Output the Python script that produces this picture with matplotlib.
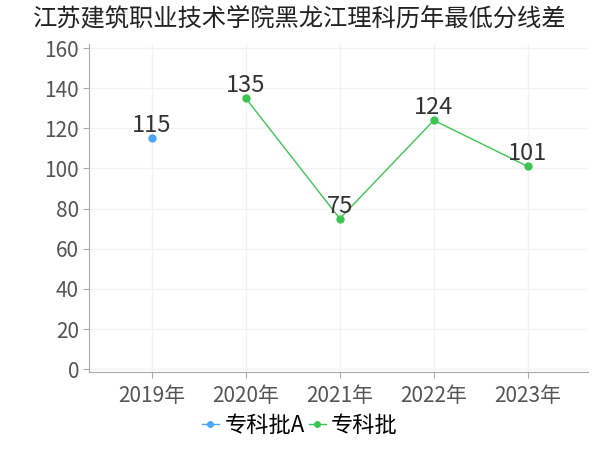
import matplotlib
matplotlib.use('Agg')
import matplotlib.pyplot as plt

plt.rcParams['font.family'] = ['Noto Sans CJK SC', 'DejaVu Sans']

years = ["2019年", "2020年", "2021年", "2022年", "2023年"]
series_a = [115, None, None, None, None]   # 专科批A
series_b = [None, 135, 75, 124, 101]       # 专科批

blue = "#4da6f7"
green = "#3cc553"

fig = plt.figure(figsize=(6, 4.5), dpi=100)
ax = fig.add_axes([0.148, 0.173, 0.832, 0.729])

xa = [i for i, v in enumerate(series_a) if v is not None]
ya = [v for v in series_a if v is not None]
xb = [i for i, v in enumerate(series_b) if v is not None]
yb = [v for v in series_b if v is not None]

ax.plot(xa, ya, color=blue, marker="o", markersize=5, linewidth=1, label="专科批A")
ax.plot(xb, yb, color=green, marker="o", markersize=5, linewidth=1, label="专科批")

for x, y in zip(xa, ya):
    ax.text(x, y + 0.5, str(y), ha="center", va="bottom", fontsize=17, color="#333333")
for x, y in zip(xb, yb):
    ax.text(x, y + 0.5, str(y), ha="center", va="bottom", fontsize=17, color="#333333")

ax.set_xlim(-0.67, 4.64)
ax.set_ylim(-1.5, 162)
ax.set_xticks(range(len(years)))
ax.set_xticklabels(years)
ax.set_yticks(range(0, 161, 20))
ax.tick_params(axis="both", labelsize=15, colors="#aaaaaa", labelcolor="#555555", length=4)
ax.tick_params(axis="x", pad=5)
ax.tick_params(axis="y", pad=3)
ax.grid(True, color="#f2f2f2", linewidth=1)
ax.set_axisbelow(True)
for s in ["top", "right"]:
    ax.spines[s].set_visible(False)
for s in ["left", "bottom"]:
    ax.spines[s].set_color("#aaaaaa")

fig.suptitle("江苏建筑职业技术学院黑龙江理科历年最低分线差", y=0.987, fontsize=17.5, color="#222222")
fig.legend(loc="lower center", bbox_to_anchor=(0.5, -0.015), ncol=2, frameon=False,
           fontsize=16, handlelength=0.75, handletextpad=0.25, columnspacing=0.2,
           markerscale=0.8)

plt.savefig("out.png", dpi=100)
